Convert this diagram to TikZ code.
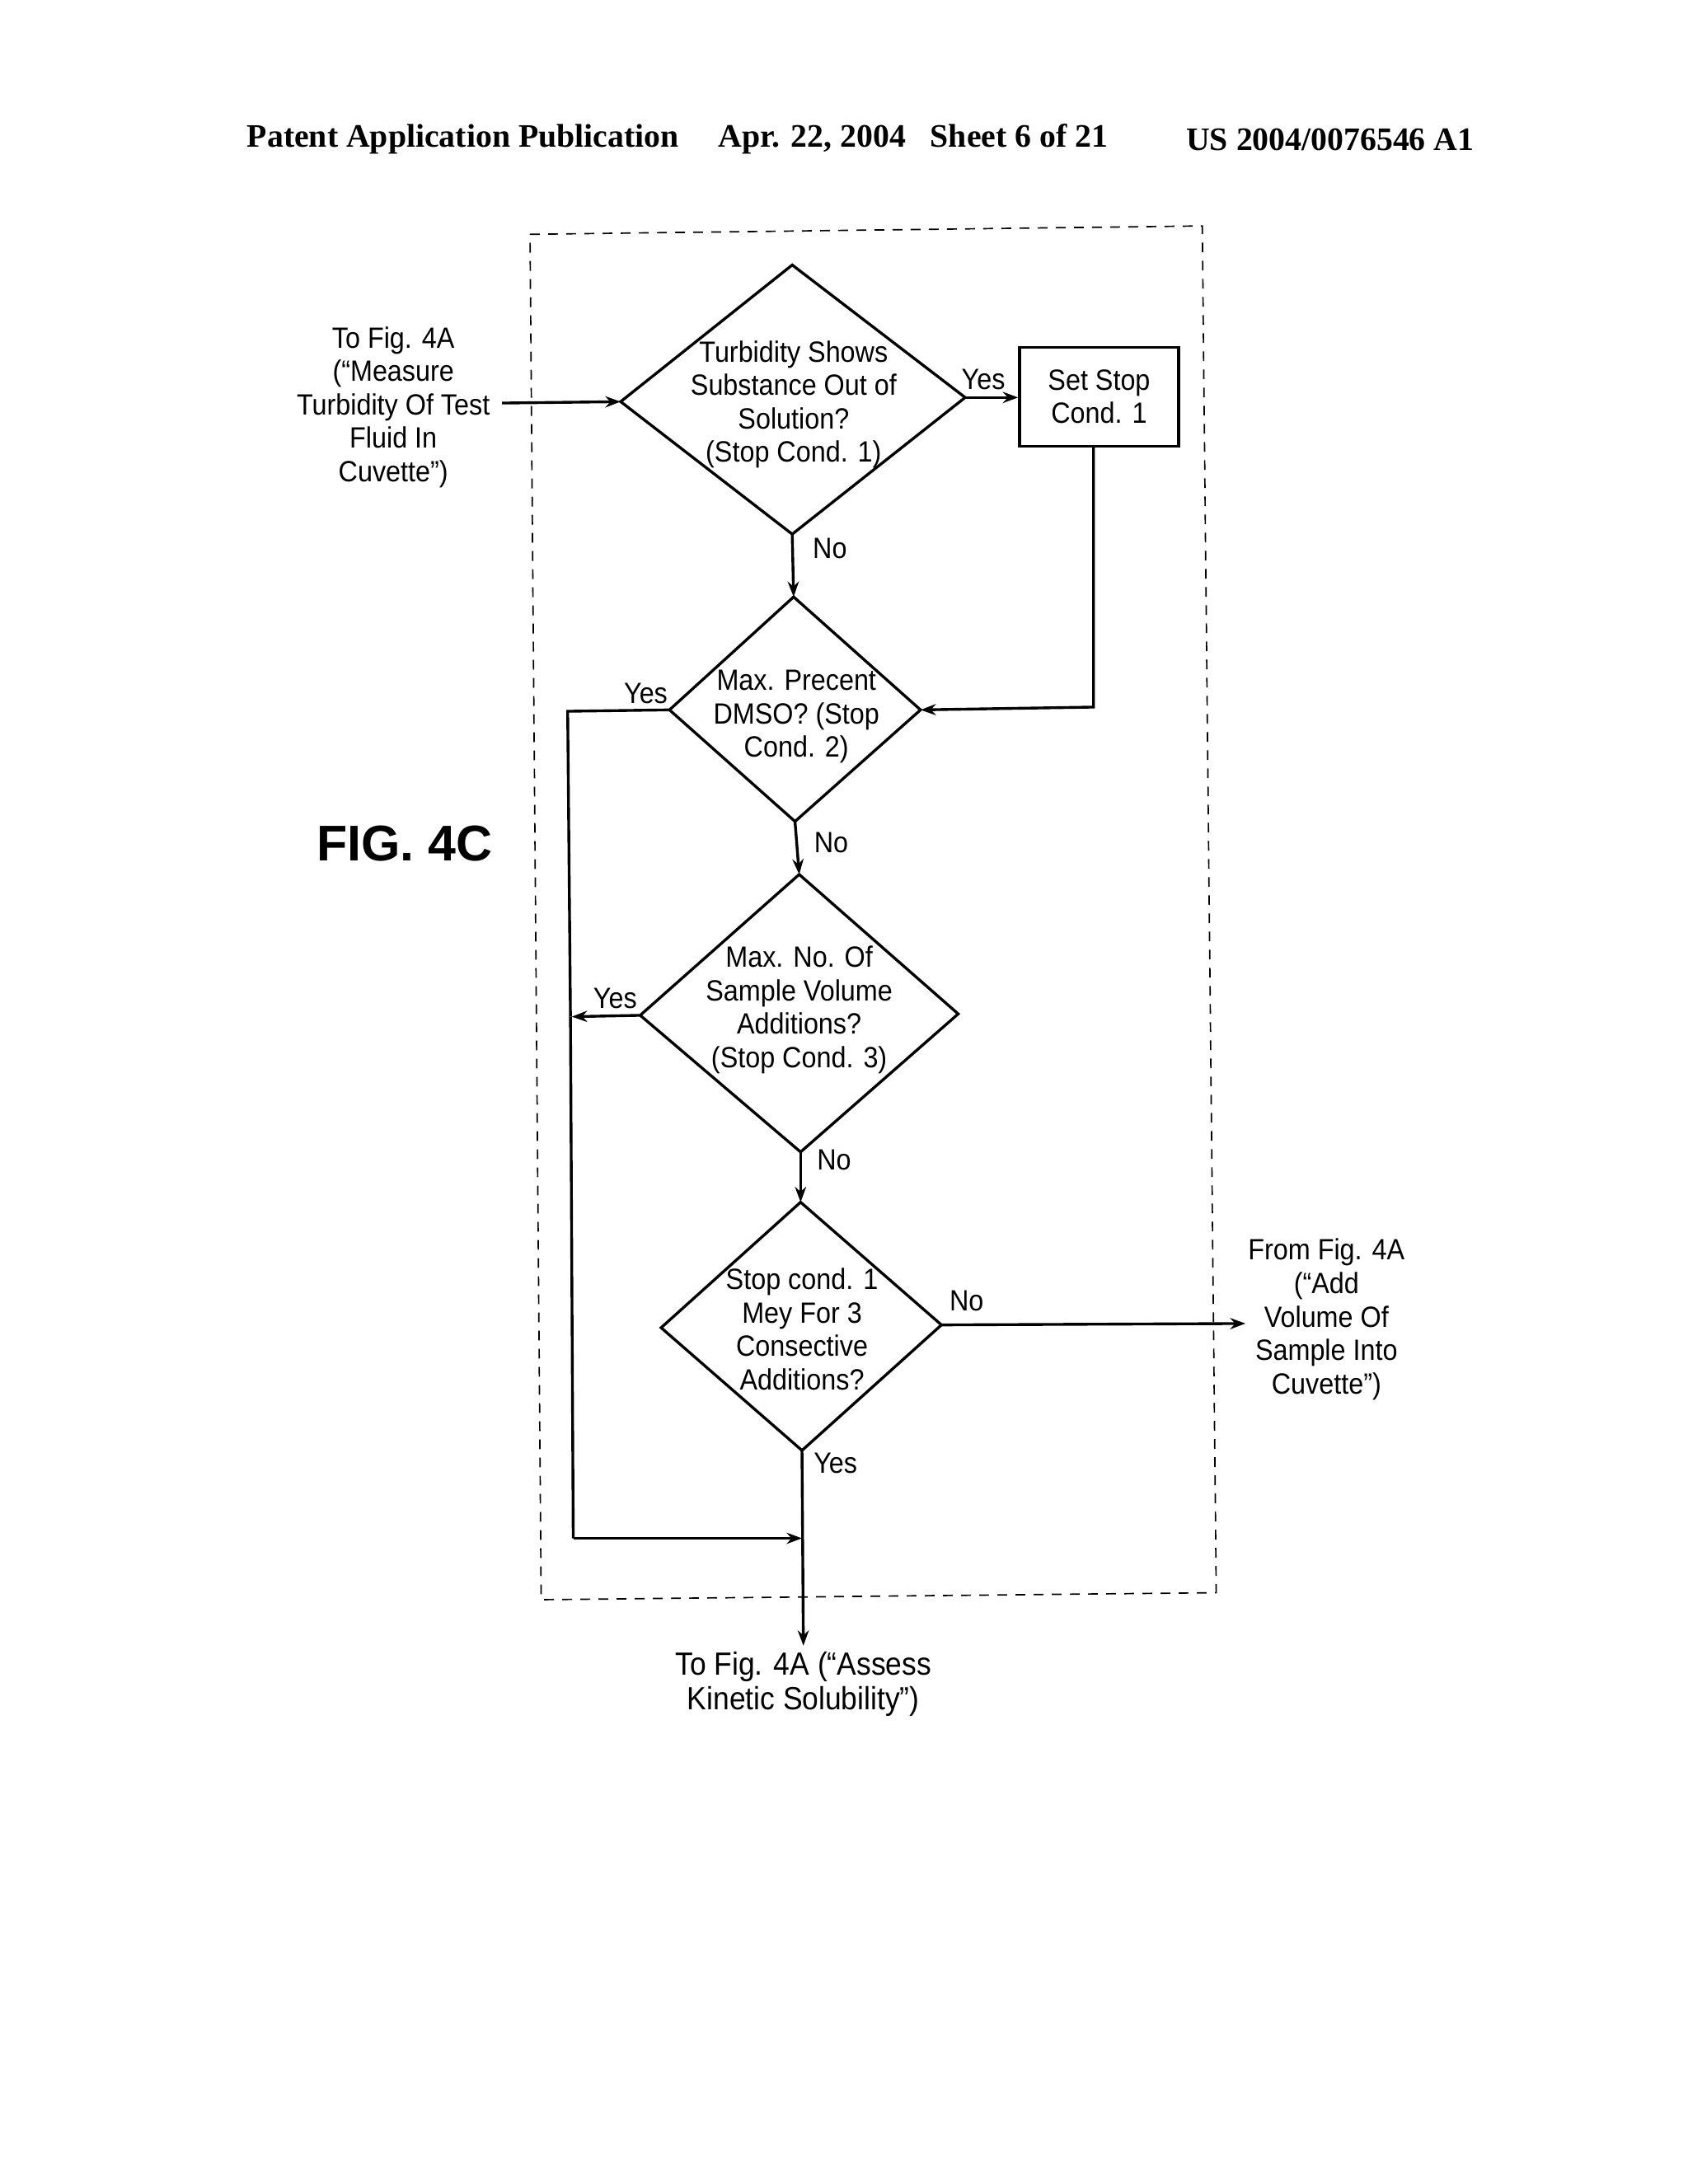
\documentclass[tikz,border=0pt]{standalone}
\usepackage{fontspec}
\setmainfont{Liberation Sans}[FakeStretch=0.91]
\newfontfamily\hdr{Liberation Serif}
\newfontfamily\figf{Liberation Sans}[FakeStretch=1.0]
\usetikzlibrary{arrows.meta,shapes.geometric}
\begin{document}
\begin{tikzpicture}[x=1pt,y=-1pt,
  ln/.style={line width=2pt},
  arr/.style={ln,-{Stealth[length=11pt,width=8pt]}},
  hd/.style={font=\hdr\bfseries\fontsize{23.5}{25}\selectfont,inner sep=0pt},
  txt/.style={font=\fontsize{21}{24}\selectfont,align=center,inner sep=0pt},
  lab/.style={font=\fontsize{21}{24}\selectfont,inner sep=0pt}]
\useasboundingbox (0,0) rectangle (1210,1566);
% header
\node[hd,anchor=west] (h1) at (177,100) {Patent Application Publication};
\node[hd,anchor=west] (h2) at (515,100) {Apr. 22, 2004\ \ \ Sheet 6 of 21};
\node[hd,anchor=east] (h3) at (1057,100) {US 2004/0076546 A1};
% dashed frame
\draw[line width=1pt,dash pattern=on 7pt off 6pt] (380,168) -- (862,162) -- (872,1142) -- (388,1147) -- cycle;
% diamonds
\coordinate (d1t) at (568,190); \coordinate (d1l) at (445,288); \coordinate (d1r) at (692,285); \coordinate (d1b) at (568,383);
\draw[ln] (d1t) -- (d1r) -- (d1b) -- (d1l) -- cycle;
\coordinate (d2t) at (569,428); \coordinate (d2l) at (480,509); \coordinate (d2r) at (660,509); \coordinate (d2b) at (570,589);
\draw[ln] (d2t) -- (d2r) -- (d2b) -- (d2l) -- cycle;
\coordinate (d3t) at (573,627); \coordinate (d3l) at (459,728); \coordinate (d3r) at (687,727); \coordinate (d3b) at (574,826);
\draw[ln] (d3t) -- (d3r) -- (d3b) -- (d3l) -- cycle;
\coordinate (d4t) at (574,862); \coordinate (d4l) at (474,952); \coordinate (d4r) at (675,950); \coordinate (d4b) at (575,1040);
\draw[ln] (d4t) -- (d4r) -- (d4b) -- (d4l) -- cycle;
\node[txt] (t1) at (569,290) {Turbidity Shows\\Substance Out of\\Solution?\\(Stop Cond. 1)};
\node[txt] (t2) at (571,514) {Max. Precent\\DMSO? (Stop\\Cond. 2)};
\node[txt] (t3) at (573,724) {Max. No. Of\\Sample Volume\\Additions?\\(Stop Cond. 3)};
\node[txt] (t4) at (575,953) {Stop cond. 1\\Mey For 3\\Consective\\Additions?};
\node[draw,ln,minimum width=114pt,minimum height=71pt,txt] (box) at (788,284.5) {Set Stop\\Cond. 1};
% external texts
\node[txt] (in) at (282,292) {To Fig. 4A\\(``Measure\\Turbidity Of Test\\Fluid In\\Cuvette'')};
\node[txt] (out) at (951,946) {From Fig. 4A\\(``Add\\Volume Of\\Sample Into\\Cuvette'')};
\node[txt,anchor=north,font=\fontsize{23}{25}\selectfont] (end) at (576,1184) {To Fig. 4A (``Assess\\Kinetic Solubility'')};
\node[font=\figf\bfseries\fontsize{36}{40}\selectfont,inner sep=0pt] (fig) at (290,605) {FIG. 4C};
% connectors
\coordinate (inS) at (360,289);
\draw[arr] (inS) -- (d1l);
\draw[arr] (d1r) -- (box.west |- d1r);
\coordinate (bx1) at (784,507);
\draw[arr] (784,320) -- (bx1) -- (d2r);
\draw[arr] (d1b) -- (d2t);
\draw[arr] (d2b) -- (d3t);
\draw[arr] (d3b) -- (d4t);
\coordinate (L1) at (407,510); \coordinate (L2) at (411,1103); \coordinate (J) at (575,1103);
\draw[ln] (d2l) -- (L1) -- (409,729);
\draw[ln] (409,729) -- (L2);
\draw[arr] (L2) -- (J);
\coordinate (L3) at (410,729);
\draw[arr] (d3l) -- (L3);
\coordinate (bot) at (576,1180);
\draw[arr] (d4b) -- (bot);
\coordinate (rE) at (893,949);
\draw[arr] (d4r) -- (rE);
% labels
\node[lab] (y1) at (705,272) {Yes};
\node[lab] (n1) at (595,393) {No};
\node[lab] (y2) at (463,497) {Yes};
\node[lab] (n2) at (596,604) {No};
\node[lab] (y3) at (441,716) {Yes};
\node[lab] (n3) at (598,832) {No};
\node[lab] (n4) at (693,933) {No};
\node[lab] (y4) at (599,1049) {Yes};
\end{tikzpicture}
\end{document}
